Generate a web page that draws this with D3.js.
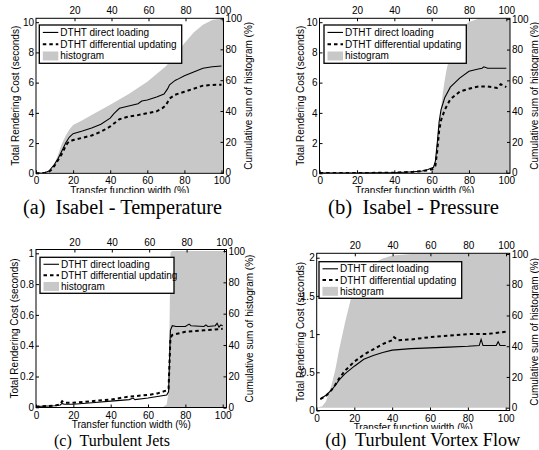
<!DOCTYPE html>
<html><head><meta charset="utf-8">
<script src="https://cdnjs.cloudflare.com/ajax/libs/d3/7.8.5/d3.min.js"></script>
<style>body{margin:0;background:#fff}svg{display:block}</style>
</head><body>
<script>
// ---------- data ----------
const xTicks = [0, 20, 40, 60, 80, 100];
const topTicks = [20, 40, 60, 80, 100];
const histTicks = [0, 20, 40, 60, 80, 100];
const legendLabels = ["DTHT direct loading", "DTHT differential updating", "histogram"];
const xLabel = "Transfer function width (%)";
const yLabel = "Total Rendering Cost (seconds)";
const y2Label = "Cumulative sum of histogram (%)";
const captions = ["(a)  Isabel - Temperature", "(b)  Isabel - Pressure", "(c)  Turbulent Jets", "(d)  Turbulent Vortex Flow"];

// (a) Isabel - Temperature
const tempTicks = [0, 2, 4, 6, 8, 10];
const tempDirect = [[0,0],[3,0],[5,0.05],[7,0.15],[8,0.3],[10,0.6],[12,1.0],[14,1.5],[16,2.0],[18,2.4],[20,2.62],[25,2.8],[30,3.0],[35,3.25],[40,3.65],[42,3.95],[45,4.3],[50,4.45],[55,4.6],[57,4.78],[60,4.85],[65,5.05],[69,5.25],[71,5.6],[72,5.86],[75,6.15],[76,6.2],[80,6.45],[85,6.7],[90,6.95],[95,7.05],[100,7.1]];
const tempDiff = [[0,0],[3,0],[5,0.04],[7,0.12],[8,0.2],[10,0.5],[12,0.9],[14,1.3],[16,1.8],[17,2.0],[18,2.1],[20,2.2],[25,2.35],[30,2.5],[35,2.75],[40,3.1],[45,3.58],[50,3.76],[55,3.85],[60,3.98],[65,4.1],[68,4.3],[70,4.5],[72,4.95],[75,5.2],[80,5.4],[85,5.6],[90,5.8],[95,5.85],[100,5.86]];
const tempHist = [[0,0],[5,0],[7,1],[8,2],[10,6],[12,12],[14,19],[16,24],[18,28],[20,31],[25,34],[30,37.5],[40,44],[50,51],[60,59],[70,69],[75,76],[80,84],[85,91],[90,96],[95,99],[100,100],[101,100]];

// (b) Isabel - Pressure
const presTicks = [0, 2, 4, 6, 8, 10];
const presDirect = [[0,0.02],[20,0.02],[30,0.03],[40,0.04],[50,0.1],[55,0.15],[58,0.25],[61,0.4],[62,0.8],[63,2.0],[64,3.4],[65,4.2],[67,5.0],[70,5.7],[75,6.3],[80,6.75],[85,6.9],[87,6.95],[88,7.05],[90,6.95],[95,6.95],[100,6.95]];
const presDiff = [[0,0.02],[20,0.02],[30,0.03],[40,0.04],[50,0.1],[55,0.15],[58,0.2],[61,0.3],[62,0.5],[63,1.5],[64,2.8],[65,3.5],[67,4.2],[70,4.9],[75,5.4],[80,5.6],[85,5.75],[90,5.75],[95,5.65],[97,5.9],[100,5.7]];
const presHist = [[0,0],[58,0],[60,0.5],[61,2],[62,8],[63,18],[64,30],[65,42],[66,52],[67,60],[68,67],[70,77],[72,84],[75,91],[78,96],[80,98],[85,100],[102,100]];

// (c) Turbulent Jets
const jetsTicks = [0, 0.2, 0.4, 0.6, 0.8, 1];
const jetsDirect = [[0,0.005],[10,0.01],[13,0.015],[14,0.025],[15,0.02],[20,0.02],[30,0.03],[40,0.04],[50,0.05],[52,0.06],[53,0.05],[60,0.06],[70,0.08],[71,0.1],[72,0.5],[73,0.53],[75,0.525],[80,0.525],[82,0.54],[83,0.53],[90,0.525],[91,0.535],[92,0.525],[96,0.53],[97,0.545],[98,0.52],[99,0.535],[100,0.53]];
const jetsDiff = [[0,0.005],[10,0.01],[13,0.02],[14,0.04],[15,0.03],[20,0.03],[30,0.04],[40,0.05],[50,0.07],[60,0.08],[65,0.09],[70,0.11],[71,0.12],[72,0.45],[73,0.47],[80,0.49],[90,0.5],[100,0.51]];
const jetsHist = [[0,0],[66,0],[68,0.5],[70,2],[71,10],[71.5,50],[72,99],[73,100],[102,100]];

// (d) Turbulent Vortex Flow
const vortTicks = [0, 0.5, 1, 1.5, 2];
const vortDirect = [[2,0.15],[5,0.2],[8,0.27],[10,0.33],[12,0.4],[15,0.48],[20,0.58],[25,0.67],[30,0.72],[35,0.76],[40,0.79],[45,0.8],[50,0.81],[60,0.82],[70,0.83],[80,0.84],[86,0.85],[87,0.93],[88,0.85],[95,0.85],[96,0.9],[97,0.85],[100,0.85]];
const vortDiff = [[2,0.15],[5,0.19],[8,0.27],[10,0.34],[12,0.42],[15,0.52],[20,0.64],[25,0.73],[30,0.8],[35,0.87],[40,0.92],[41,0.96],[43,0.92],[50,0.93],[60,0.96],[70,0.98],[80,1.0],[90,1.0],[100,1.03]];
const vortHist = [[0,0],[3,1],[5,4],[8,15],[10,25],[12,38],[15,55],[18,70],[20,78],[25,88],[30,94],[35,97],[40,99],[50,100],[102,100]];

// ---------- layout ----------
const panels = [
  {ymax:10, yticks:tempTicks, direct:tempDirect, diff:tempDiff, hist:tempHist, cap:captions[0],
   L:36, R:223.5, T:18.3, B:173.3, x0:36, x100:221.5, tx0:37.5, tx100:222.5, yl0:173.3, ylT:22.2, yr0:172.7, yrT:18.5,
   leg:[39.3,25,142.4,38.3], ylabX:15, y2labX:248, xlabY:190, capTop:193, capX:122.5, capY:214, capW:269, capL:0, capLen:199, capFs:20},
  {ymax:10, yticks:presTicks, direct:presDirect, diff:presDiff, hist:presHist, cap:captions[1],
   L:319.5, R:510, T:18.3, B:173.3, x0:319.7, x100:506.3, tx0:319.7, tx100:506.3, yl0:173.3, ylT:22.2, yr0:172.7, yrT:18.8,
   leg:[324,25,142.3,38.3], ylabX:300.7, y2labX:534.7, xlabY:190, capTop:193, capX:413.5, capY:214, capW:270, capL:269, capLen:171, capFs:20},
  {ymax:1, yticks:jetsTicks, direct:jetsDirect, diff:jetsDiff, hist:jetsHist, cap:captions[2],
   L:36, R:226.5, T:249.5, B:407.5, x0:36, x100:222.7, tx0:37, tx100:224, yl0:407.3, ylT:253.3, yr0:407.7, yrT:251,
   leg:[40,257.3,134,36], ylabX:14, y2labX:249, xlabY:424.3, capTop:430, capX:112, capY:446, capW:269, capL:0, capLen:116, capFs:17},
  {ymax:2, yticks:vortTicks, direct:vortDirect, diff:vortDiff, hist:vortHist, cap:captions[3],
   L:316.7, R:509.7, T:253.3, B:410.5, x0:316.5, x100:505.7, tx0:317, tx100:506, yl0:410.5, ylT:257.7, yr0:407.7, yrT:254,
   leg:[319,261.7,142.7,36.6], ylabX:300.7, y2labX:534.7, xlabY:427, capTop:429, capX:422.7, capY:446, capW:270, capL:269, capLen:195, capFs:18}
];

const W = 539, H = 450;
const svg = d3.select("body").append("svg").attr("width", W).attr("height", H)
  .style("font-family", "'Liberation Sans', Arial, Helvetica, sans-serif");
const gray = "#c8c8c8";

panels.forEach((p, i) => {
  const g = svg.append("g");
  const x = d3.scaleLinear().domain([0, 100]).range([p.x0, p.x100]);
  const xt = d3.scaleLinear().domain([0, 100]).range([p.tx0, p.tx100]);
  const y = d3.scaleLinear().domain([0, p.ymax]).range([p.yl0, p.ylT]);
  const y2 = d3.scaleLinear().domain([0, 100]).range([p.yr0, p.yrT]);

  const clipId = "clip" + i;
  svg.append("clipPath").attr("id", clipId).append("rect")
    .attr("x", p.L).attr("y", p.T).attr("width", p.R - p.L).attr("height", p.B - p.T);

  const plot = g.append("g").attr("clip-path", `url(#${clipId})`);
  plot.append("path").datum(p.hist)
    .attr("d", d3.area().x(d => x(d[0])).y0(y2(0)).y1(d => y2(d[1])))
    .attr("fill", gray);
  plot.append("path").datum(p.direct)
    .attr("d", d3.line().x(d => x(d[0])).y(d => y(d[1])))
    .attr("fill", "none").attr("stroke", "#000").attr("stroke-width", 1.1);
  plot.append("path").datum(p.diff)
    .attr("d", d3.line().x(d => x(d[0])).y(d => y(d[1])))
    .attr("fill", "none").attr("stroke", "#000").attr("stroke-width", 2).attr("stroke-dasharray", "3.5,3");

  const tl = 3;
  const axB = g.append("g").attr("transform", `translate(0,${p.B})`)
    .call(d3.axisBottom(x).tickValues(xTicks).tickSizeInner(-tl).tickSizeOuter(0).tickPadding(4));
  const axT = g.append("g").attr("transform", `translate(0,${p.T})`)
    .call(d3.axisTop(xt).tickValues(topTicks).tickSizeInner(-tl).tickSizeOuter(0).tickPadding(4));
  const axL = g.append("g").attr("transform", `translate(${p.L},0)`)
    .call(d3.axisLeft(y).tickValues(p.yticks).tickSizeInner(-tl).tickSizeOuter(0).tickPadding(2).tickFormat(d3.format("~g")));
  const axR = g.append("g").attr("transform", `translate(${p.R},0)`)
    .call(d3.axisRight(y2).tickValues(histTicks).tickSizeInner(-tl).tickSizeOuter(0).tickPadding(2));
  [axB, axT, axL, axR].forEach(a => {
    a.select(".domain").remove();
    a.selectAll("text").attr("font-size", 10).attr("font-family", "'Liberation Sans', Arial, sans-serif").attr("fill", "#000");
    a.selectAll("line").attr("stroke", "#000");
  });
  g.append("rect").attr("x", p.L).attr("y", p.T).attr("width", p.R - p.L).attr("height", p.B - p.T)
    .attr("fill", "none").attr("stroke", "#000").attr("stroke-width", 1);

  g.append("text").attr("transform", `translate(${p.ylabX},${(p.T + p.B) / 2}) rotate(-90)`)
    .attr("text-anchor", "middle").attr("dominant-baseline", "central").attr("font-size", 10).text(yLabel);
  g.append("text").attr("transform", `translate(${p.y2labX},${(p.T + p.B) / 2}) rotate(-90)`)
    .attr("text-anchor", "middle").attr("dominant-baseline", "central").attr("font-size", 10).text(y2Label);
  g.append("text").attr("x", (p.L + p.R) / 2).attr("y", p.xlabY)
    .attr("text-anchor", "middle").attr("dominant-baseline", "central").attr("font-size", 10).text(xLabel);

  const [lx, ly, lw, lh] = p.leg;
  const lg = g.append("g");
  lg.append("rect").attr("x", lx).attr("y", ly).attr("width", lw).attr("height", lh)
    .attr("fill", "#fff").attr("stroke", "#000").attr("stroke-width", 1.3);
  const rowH = lh / 3.25;
  legendLabels.forEach((t, k) => {
    const cy = ly + rowH * (k + 0.5) + lh * 0.04;
    if (k === 0) lg.append("line").attr("x1", lx + 3.5).attr("x2", lx + 19).attr("y1", cy).attr("y2", cy).attr("stroke", "#000").attr("stroke-width", 1.1);
    if (k === 1) lg.append("line").attr("x1", lx + 3.5).attr("x2", lx + 19).attr("y1", cy).attr("y2", cy).attr("stroke", "#000").attr("stroke-width", 2).attr("stroke-dasharray", "3.5,3");
    if (k === 2) lg.append("rect").attr("x", lx + 3.5).attr("y", cy - 4.5).attr("width", 15.5).attr("height", 9).attr("fill", gray);
    lg.append("text").attr("x", lx + 21).attr("y", cy).attr("dominant-baseline", "central").attr("font-size", 10).text(t);
  });

  svg.append("rect").attr("x", p.capL).attr("y", p.capTop).attr("width", p.capW).attr("height", (i < 2 ? 225 : 450) - p.capTop).attr("fill", "#fff");
  svg.append("text").attr("x", p.capX).attr("y", p.capY).attr("text-anchor", "middle")
    .attr("font-family", "'Liberation Serif', 'Times New Roman', serif").attr("font-size", p.capFs)
    .attr("xml:space", "preserve").style("white-space", "pre")
    .attr("textLength", p.capLen).attr("lengthAdjust", "spacingAndGlyphs").text(p.cap);
});
</script>
</body></html>
